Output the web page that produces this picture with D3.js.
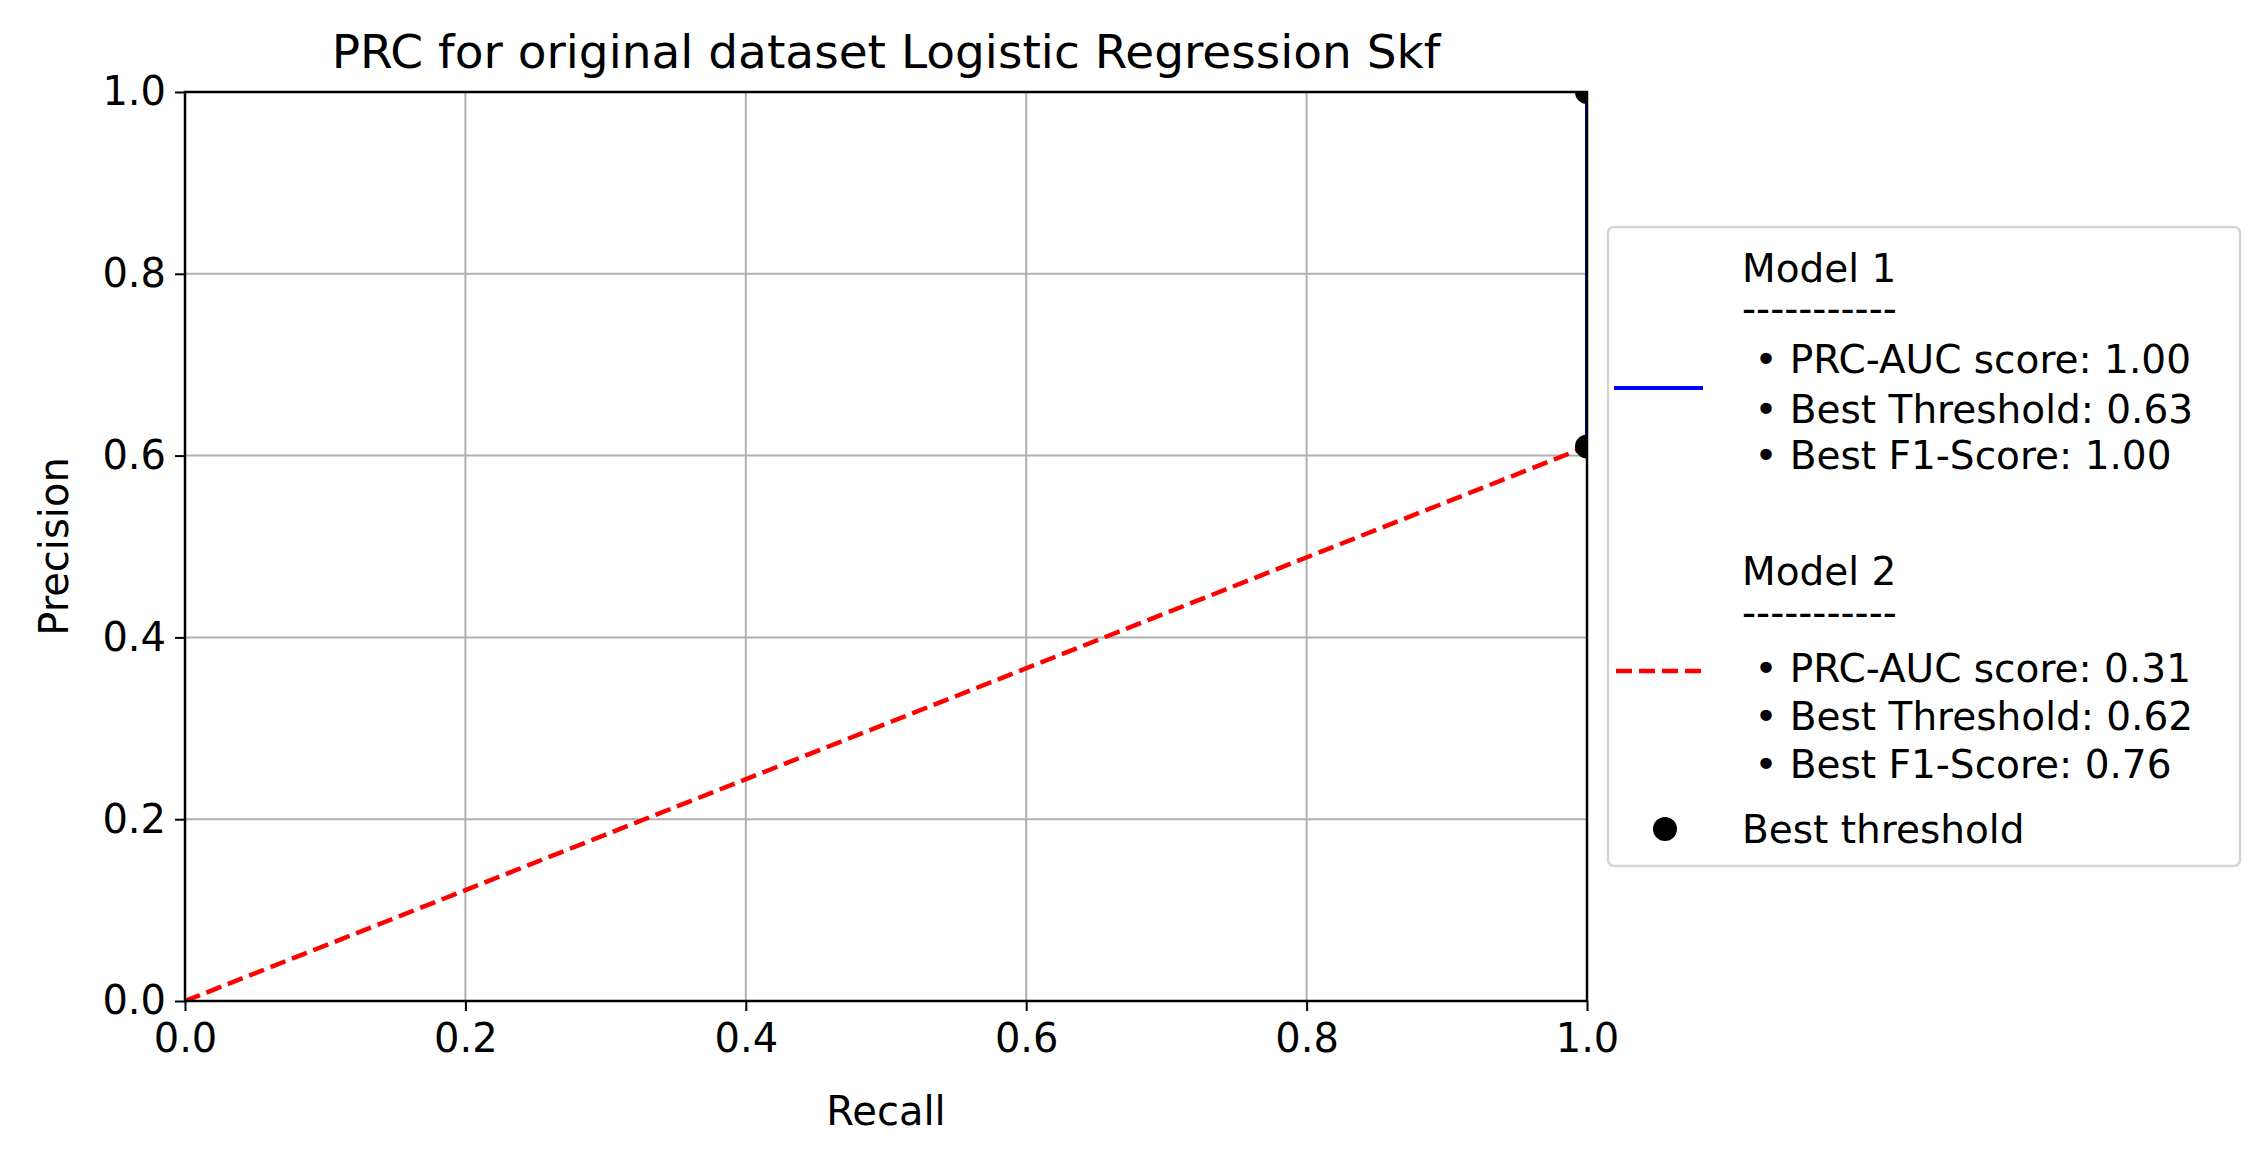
<!DOCTYPE html>
<html>
<head>
<meta charset="utf-8" />
<style>body{margin:0;background:#fff;} text{font-family:"DejaVu Sans",sans-serif;}</style>
</head>
<body>
<svg id="graph"></svg>
<script src="https://d3js.org/d3.v7.min.js"></script>
<script>
const W = 2261, H = 1158;
const M = { left: 185, right: 1587, top: 92, bottom: 1001 };

const model1Recall = [1.0, 1.0];
const model1Precision = [1.0, 0.61];
const model2Recall = [0.0, 1.0];
const model2Precision = [0.0, 0.61];
const bestRecall = [1.0, 1.0];
const bestPrecision = [1.0, 0.61];
const ticks = [0, 0.2, 0.4, 0.6, 0.8, 1.0];
const legendRows = [
  ['Model 1', '-----------', ' • PRC-AUC score: 1.00', ' • Best Threshold: 0.63', ' • Best F1-Score: 1.00'],
  ['Model 2', '-----------', ' • PRC-AUC score: 0.31', ' • Best Threshold: 0.62', ' • Best F1-Score: 0.76']
];

const svg = d3.select('#graph').attr('width', W).attr('height', H);
const x = d3.scaleLinear().domain([0, 1]).range([M.left, M.right]);
const y = d3.scaleLinear().domain([0, 1]).range([M.bottom, M.top]);

svg.append('clipPath').attr('id', 'clip').append('rect')
  .attr('x', M.left).attr('y', M.top).attr('width', M.right - M.left).attr('height', M.bottom - M.top);

// grid
svg.append('g').selectAll('line').data(ticks).join('line')
  .attr('x1', d => x(d)).attr('x2', d => x(d)).attr('y1', M.top).attr('y2', M.bottom)
  .attr('stroke', '#b0b0b0').attr('stroke-width', 2);
svg.append('g').selectAll('line').data(ticks).join('line')
  .attr('y1', d => y(d)).attr('y2', d => y(d)).attr('x1', M.left).attr('x2', M.right)
  .attr('stroke', '#b0b0b0').attr('stroke-width', 2);

const plot = svg.append('g').attr('clip-path', 'url(#clip)');
const line = d3.line().x(d => x(d[0])).y(d => y(d[1]));
plot.append('path').datum(d3.zip(model1Recall, model1Precision)).attr('d', line)
  .attr('fill', 'none').attr('stroke', 'blue').attr('stroke-width', 4);
plot.append('path').datum(d3.zip(model2Recall, model2Precision)).attr('d', line)
  .attr('fill', 'none').attr('stroke', 'red').attr('stroke-width', 4.5).attr('stroke-dasharray', '16,7');
plot.selectAll('circle.best').data(d3.zip(bestRecall, bestPrecision)).join('circle')
  .attr('cx', d => x(d[0])).attr('cy', d => y(d[1])).attr('r', 12).attr('fill', '#000');

// axes
const fmt = d3.format('.1f');
const xa = svg.append('g').attr('transform', `translate(0,${M.bottom})`)
  .call(d3.axisBottom(x).tickValues(ticks).tickFormat(fmt).tickSize(10).tickSizeOuter(0));
const ya = svg.append('g').attr('transform', `translate(${M.left},0)`)
  .call(d3.axisLeft(y).tickValues(ticks).tickFormat(fmt).tickSize(10).tickSizeOuter(0));
[xa, ya].forEach(a => {
  a.selectAll('text').attr('font-size', 40).attr('fill', '#000').attr('font-family', 'DejaVu Sans');
  a.selectAll('line').attr('stroke-width', 2);
  a.select('.domain').remove();
});
xa.selectAll('text').attr('dy', '0.95em');
ya.selectAll('text').attr('dx', '-0.15em');
svg.append('rect').attr('x', M.left).attr('y', M.top).attr('width', M.right - M.left)
  .attr('height', M.bottom - M.top).attr('fill', 'none').attr('stroke', '#000').attr('stroke-width', 2.5);

svg.append('text').attr('x', (M.left + M.right) / 2).attr('y', 68).attr('text-anchor', 'middle')
  .attr('font-size', 47).text('PRC for original dataset Logistic Regression Skf');
svg.append('text').attr('x', (M.left + M.right) / 2).attr('y', 1125).attr('text-anchor', 'middle')
  .attr('font-size', 40).text('Recall');
svg.append('text').attr('transform', `translate(68,${(M.top + M.bottom) / 2}) rotate(-90)`)
  .attr('text-anchor', 'middle').attr('font-size', 40).text('Precision');

// legend
const lg = svg.append('g');
lg.append('rect').attr('x', 1608).attr('y', 227).attr('width', 632).attr('height', 639).attr('rx', 6)
  .attr('fill', '#fff').attr('fill-opacity', 0.8).attr('stroke', '#d5d5d5').attr('stroke-width', 2.5);
const rowY = [[282, 322, 373, 423, 469], [585, 626, 682, 730, 778]];
legendRows.forEach((rows, i) => {
  rows.forEach((t, j) => lg.append('text').attr('x', 1742).attr('y', rowY[i][j]).attr('font-size', 39)
    .attr('xml:space', 'preserve').style('white-space', 'pre').text(t));
});
lg.append('line').attr('x1', 1614).attr('x2', 1703).attr('y1', 388).attr('y2', 388)
  .attr('stroke', 'blue').attr('stroke-width', 4);
lg.append('line').attr('x1', 1616).attr('x2', 1703).attr('y1', 671).attr('y2', 671)
  .attr('stroke', 'red').attr('stroke-width', 4.5).attr('stroke-dasharray', '16,7');
lg.append('circle').attr('cx', 1665).attr('cy', 829).attr('r', 12).attr('fill', '#000');
lg.append('text').attr('x', 1742).attr('y', 843).attr('font-size', 39).text('Best threshold');
</script>
</body>
</html>
